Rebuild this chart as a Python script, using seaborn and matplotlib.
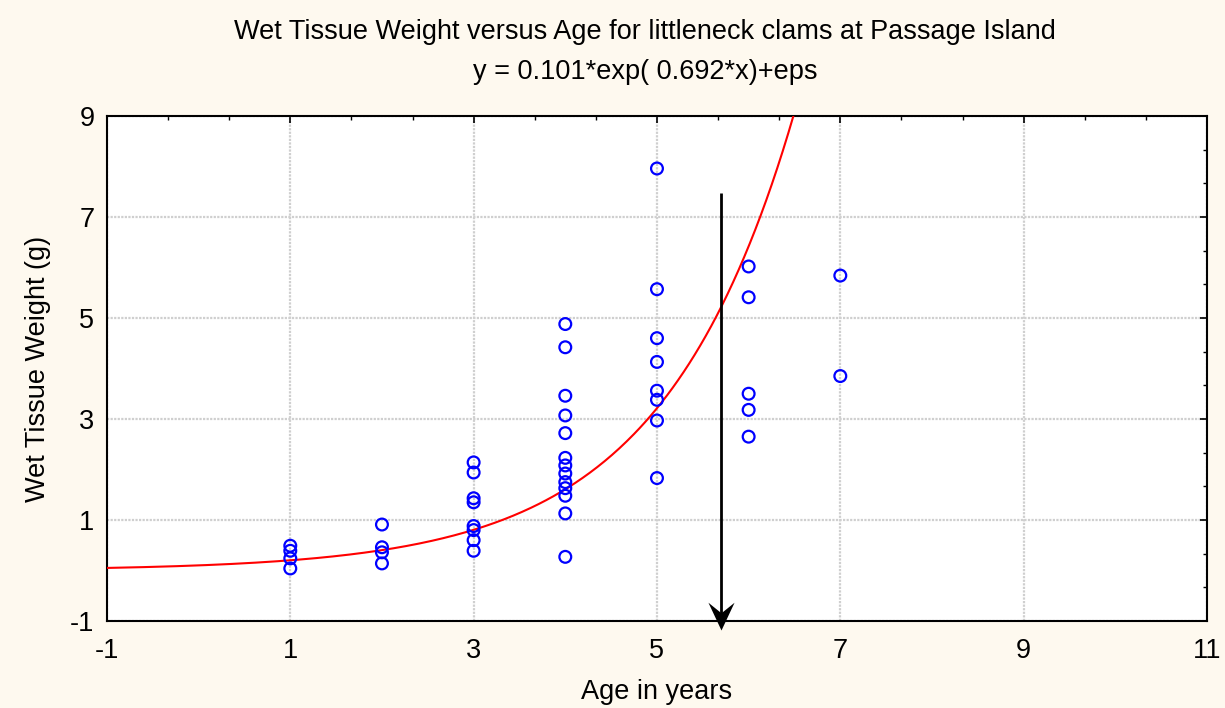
import numpy as np
import pandas as pd
import matplotlib
matplotlib.use("Agg")
import matplotlib.pyplot as plt
from matplotlib.ticker import MultipleLocator
from matplotlib.path import Path
import seaborn as sns

# ---- data ----
age = [1, 1, 1, 1,
       2, 2, 2, 2,
       3, 3, 3, 3, 3, 3, 3, 3,
       4, 4, 4, 4, 4, 4, 4, 4, 4, 4, 4, 4, 4,
       5, 5, 5, 5, 5, 5, 5, 5,
       6, 6, 6, 6, 6,
       7, 7]
weight = [0.49, 0.39, 0.24, 0.04,
          0.91, 0.46, 0.36, 0.14,
          2.14, 1.94, 1.43, 1.35, 0.88, 0.80, 0.60, 0.39,
          4.88, 4.42, 3.46, 3.07, 2.72, 2.23, 2.08, 1.92, 1.75, 1.63, 1.48, 1.13, 0.27,
          7.96, 5.57, 4.60, 4.13, 3.56, 3.38, 2.97, 1.83,
          6.02, 5.41, 3.50, 3.18, 2.65,
          5.84, 3.85]
model_a = 0.101
model_b = 0.692
arrow_x = 5.7
arrow_top = 7.48
arrow_tip = -1.17

title_line1 = "Wet Tissue Weight versus Age for littleneck clams at Passage Island"
title_line2 = "y = 0.101*exp( 0.692*x)+eps"
x_label = "Age in years"
y_label = "Wet Tissue Weight (g)"
x_ticks = [-1, 1, 3, 5, 7, 9, 11]
y_ticks = [-1, 1, 3, 5, 7, 9]

df = pd.DataFrame({"age": age, "weight": weight})
xc = np.linspace(-1, 11, 600)
curve = pd.DataFrame({"x": xc, "y": model_a * np.exp(model_b * xc)})

sns.set_theme(style="white")
plt.rcParams["font.family"] = ["Liberation Sans", "DejaVu Sans"]
plt.rcParams["text.color"] = "black"
plt.rcParams["axes.labelcolor"] = "black"

FS = 19.5
bg = "#FEF9EF"
fig = plt.figure(figsize=(12.25, 7.08), dpi=100, facecolor=bg)
ax = fig.add_axes([0.0873, 0.1229, 0.898, 0.7133])
ax.set_facecolor("white")

sns.lineplot(data=curve, x="x", y="y", ax=ax, color="#FF0000", linewidth=1.5, zorder=3)
sns.scatterplot(data=df, x="age", y="weight", ax=ax, marker="o", s=72,
                facecolors="none", edgecolor="#0000FF", linewidth=1.6, zorder=4)

# arrow: shaft + concave head
ax.plot([arrow_x, arrow_x], [arrow_top, arrow_tip + 0.25], color="black", lw=2,
        zorder=5, clip_on=False, solid_capstyle="butt")
head = Path([(0, 0), (-0.47, 1.0), (0, 0.62), (0.47, 1.0), (0, 0)],
            [Path.MOVETO, Path.LINETO, Path.LINETO, Path.LINETO, Path.CLOSEPOLY])
ax.plot([arrow_x], [arrow_tip], marker=head, markersize=40, color="black",
        markeredgewidth=0, zorder=6, clip_on=False)

ax.set_xlim(-1, 11)
ax.set_ylim(-1, 9)
ax.set_xticks(x_ticks)
ax.set_yticks(y_ticks)
ax.set_xticklabels([str(t) for t in x_ticks])
ax.set_yticklabels([str(t) for t in y_ticks])
ax.xaxis.set_minor_locator(MultipleLocator(2/3, offset=1/3))
ax.yaxis.set_minor_locator(MultipleLocator(2/3, offset=1/3))
ax.tick_params(which="both", direction="in", top=True, right=True, colors="black",
               labelsize=FS)
ax.tick_params(axis="x", which="major", length=5, width=1.2, pad=12)
ax.tick_params(axis="y", which="major", length=5, width=1.2, pad=9)
ax.tick_params(which="minor", length=3, width=1)
ax.grid(True, which="major", color="#CFCFCF", linestyle=(0, (1, 0.6)), linewidth=1.6)
ax.set_axisbelow(True)
for sp in ax.spines.values():
    sp.set_visible(True)
    sp.set_color("black")
    sp.set_linewidth(1.5)

ax.set_xlabel(x_label, fontsize=FS, labelpad=11)
ax.set_ylabel(y_label, fontsize=FS, labelpad=14)
cx = 645 / 1225
fig.text(cx, 1 - 32 / 708, title_line1, ha="center", va="center", fontsize=FS)
fig.text(cx, 1 - 72 / 708, title_line2, ha="center", va="center", fontsize=FS)

fig.savefig("out.png", dpi=100, facecolor=bg)
